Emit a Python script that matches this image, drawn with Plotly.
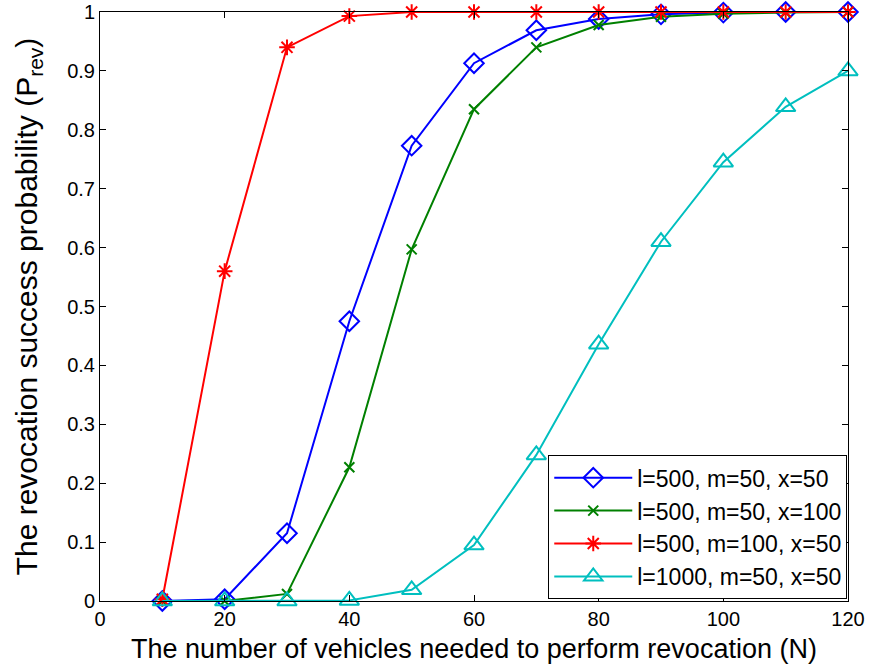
import plotly.graph_objects as go

# Number of vehicles needed to perform revocation
n_vehicles = [10, 20, 30, 40, 50, 60, 70, 80, 90, 100, 110, 120]

# Revocation success probability for each parameter set
p_l500_m50_x50 = [0.0, 0.003, 0.115, 0.475, 0.773, 0.913, 0.969, 0.988, 0.996, 0.999, 1.0, 1.0]
p_l500_m50_x100 = [0.0, 0.0, 0.012, 0.227, 0.597, 0.835, 0.940, 0.978, 0.992, 0.997, 0.999, 1.0]
p_l500_m100_x50 = [0.003, 0.560, 0.940, 0.993, 1.0, 1.0, 1.0, 1.0, 1.0, 1.0, 1.0, 1.0]
p_l1000_m50_x50 = [0.0, 0.0, 0.0, 0.001, 0.019, 0.095, 0.248, 0.436, 0.610, 0.745, 0.839, 0.900]

series_names = ["l=500, m=50, x=50", "l=500, m=50, x=100",
                "l=500, m=100, x=50", "l=1000, m=50, x=50"]

x_ticks = [0, 20, 40, 60, 80, 100, 120]
y_ticks = [0, 0.1, 0.2, 0.3, 0.4, 0.5, 0.6, 0.7, 0.8, 0.9, 1]
y_tick_text = ["0", "0.1", "0.2", "0.3", "0.4", "0.5", "0.6", "0.7", "0.8", "0.9", "1"]

FONT = "Liberation Sans, Arial, sans-serif"

styles = [
    dict(color="#0000FF", symbol="diamond-open", size=15),
    dict(color="#008000", symbol="x-thin-open", size=10),
    dict(color="#FF0000", symbol="asterisk-open", size=13),
    dict(color="#00BFBF", symbol="triangle-up-open", size=17),
]
values = [p_l500_m50_x50, p_l500_m50_x100, p_l500_m100_x50, p_l1000_m50_x50]

fig = go.Figure()
for name, ys, st in zip(series_names, values, styles):
    fig.add_trace(go.Scatter(
        x=n_vehicles, y=ys, name=name, mode="lines+markers",
        line=dict(color=st["color"], width=2),
        marker=dict(symbol=st["symbol"], size=st["size"], color=st["color"],
                    line=dict(color=st["color"], width=2)),
        cliponaxis=False,
    ))

axis_common = dict(
    showgrid=False, zeroline=False, showline=True, linecolor="black",
    linewidth=1, mirror="ticks", ticks="inside", ticklen=6, tickcolor="black",
    tickfont=dict(family=FONT, size=20, color="black"), automargin=False,
)

fig.update_layout(
    width=870, height=669,
    paper_bgcolor="white", plot_bgcolor="white",
    margin=dict(l=100, r=22, t=12, b=68),
    font=dict(family=FONT, color="black"),
    xaxis=dict(range=[0, 120], tickvals=x_ticks,
               title=dict(text="The number of vehicles needed to perform revocation (N)",
                          font=dict(family=FONT, size=27), standoff=10),
               **axis_common),
    yaxis=dict(range=[0, 1], tickvals=y_ticks, ticktext=y_tick_text,
               title=dict(text="The revocation success probability (P<sub>rev</sub>)",
                          font=dict(family=FONT, size=30), standoff=20),
               **axis_common),
    legend=dict(x=0.999, y=0.003, xanchor="right", yanchor="bottom",
                bgcolor="white", bordercolor="black", borderwidth=1,
                font=dict(family=FONT, size=23, color="black"),
                itemwidth=78, tracegroupgap=0),
    showlegend=True,
)

fig.write_html("out.html")
